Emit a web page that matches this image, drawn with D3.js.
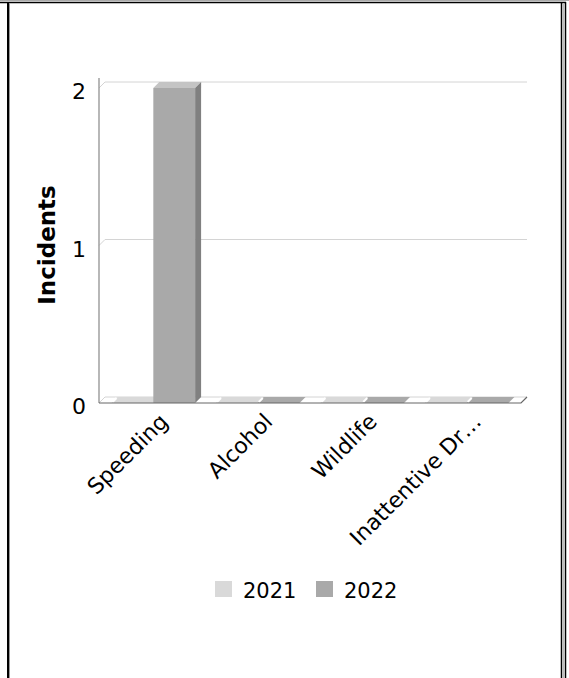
<!DOCTYPE html>
<html>
<head>
<meta charset="utf-8">
<script src="https://cdn.jsdelivr.net/npm/d3@7"></script>
<style>
  body { margin: 0; background: #fff; }
  svg { display: block; font-family: "DejaVu Sans", Verdana, sans-serif; }
</style>
</head>
<body>
<svg width="569" height="678"></svg>
<script>
const categories = ["Speeding", "Alcohol", "Wildlife", "Inattentive Dr\u2026"];
const years = ["2021", "2022"];
const values2021 = [0, 0, 0, 0];
const values2022 = [2, 0, 0, 0];
const yTicks = [0, 1, 2];

const colors = {
  "2021": { front: "#d9d9d9", side: "#b8b8b8", top: "#e8e8e8" },
  "2022": { front: "#a9a9a9", side: "#808080", top: "#c4c4c4" }
};

const svg = d3.select("svg");
const depth = 6;          // 3D offset
const plotLeft = 99, plotRight = 521, plotBase = 403, plotTop = 88;

// frame
svg.append("line").attr("x1", 0).attr("x2", 569).attr("y1", 0.5).attr("y2", 0.5).attr("stroke", "#aaa");
svg.append("line").attr("x1", 0).attr("x2", 566).attr("y1", 2.5).attr("y2", 2.5).attr("stroke", "#000").attr("stroke-width", 1.5);
svg.append("line").attr("x1", 8).attr("x2", 8).attr("y1", 2).attr("y2", 678).attr("stroke", "#000").attr("stroke-width", 2);
svg.append("line").attr("x1", 9.5).attr("x2", 9.5).attr("y1", 3).attr("y2", 678).attr("stroke", "#999");
svg.append("line").attr("x1", 561.5).attr("x2", 561.5).attr("y1", 2).attr("y2", 678).attr("stroke", "#000").attr("stroke-width", 1.5);
svg.append("line").attr("x1", 565.5).attr("x2", 565.5).attr("y1", 2).attr("y2", 678).attr("stroke", "#000").attr("stroke-width", 1.5);
svg.append("line").attr("x1", 563.5).attr("x2", 563.5).attr("y1", 3).attr("y2", 678).attr("stroke", "#bbb");

const x = d3.scaleBand().domain(categories).range([plotLeft, plotRight]).paddingInner(0.2).paddingOuter(0.12);
const xs = d3.scaleBand().domain(years).range([0, x.bandwidth()]);
const y = d3.scaleLinear().domain([0, 2]).range([plotBase, plotTop]);

// gridlines (back wall)
const g = svg.append("g");
yTicks.forEach(t => {
  if (t === 0) return;
  g.append("polyline")
    .attr("points", `${plotLeft},${y(t)} ${plotLeft + depth},${y(t) - depth} ${plotRight + depth},${y(t) - depth}`)
    .attr("fill", "none").attr("stroke", "#d4d4d4").attr("stroke-width", 1);
});

// floor back line
g.append("polyline")
  .attr("points", `${plotLeft},${plotBase} ${plotLeft + depth},${plotBase - depth} ${plotRight + depth},${plotBase - depth} ${plotRight},${plotBase}`)
  .attr("fill", "none").attr("stroke", "#d4d4d4");

// left axis
g.append("line").attr("x1", plotLeft).attr("x2", plotLeft).attr("y1", plotTop - 10).attr("y2", plotBase)
  .attr("stroke", "#888").attr("stroke-width", 1.2);

// bars
const data = [];
categories.forEach((c, i) => {
  data.push({ cat: c, year: "2021", v: values2021[i] });
  data.push({ cat: c, year: "2022", v: values2022[i] });
});

const bars = svg.append("g").selectAll("g").data(data).join("g");
bars.each(function (d) {
  const sel = d3.select(this);
  const x0 = x(d.cat) + xs(d.year);
  const w = xs.bandwidth();
  const y0 = y(d.v);
  const col = colors[d.year];
  // top face
  sel.append("polygon")
    .attr("points", `${x0},${y0} ${x0 + depth},${y0 - depth} ${x0 + w + depth},${y0 - depth} ${x0 + w},${y0}`)
    .attr("fill", d.v === 0 ? col.front : col.top);
  if (d.v > 0) {
    sel.append("polygon")
      .attr("points", `${x0 + w},${y0} ${x0 + w + depth},${y0 - depth} ${x0 + w + depth},${plotBase - depth} ${x0 + w},${plotBase}`)
      .attr("fill", col.side);
    sel.append("rect").attr("x", x0).attr("y", y0).attr("width", w).attr("height", plotBase - y0)
      .attr("fill", col.front);
  } else {
    // small white highlight on the slab's left edge
    sel.append("line").attr("x1", x0 + 1).attr("y1", plotBase - 1).attr("x2", x0 + depth - 1).attr("y2", plotBase - depth + 1)
      .attr("stroke", "#fff").attr("stroke-width", 2);
  }
});

// bottom front axis line
svg.append("polyline")
  .attr("points", `${plotLeft},${plotBase} ${plotRight},${plotBase} ${plotRight + depth},${plotBase - depth}`)
  .attr("fill", "none").attr("stroke", "#666").attr("stroke-width", 1.2);

// y tick labels
svg.append("g").selectAll("text").data(yTicks).join("text")
  .attr("x", 86).attr("y", d => y(d) + 5)
  .attr("text-anchor", "end").attr("dominant-baseline", "middle")
  .attr("font-size", 22).attr("fill", "#000")
  .text(d => d);

// y axis title
svg.append("text")
  .attr("transform", "translate(55,245) rotate(-90)")
  .attr("text-anchor", "middle")
  .attr("font-size", 23).attr("font-weight", "bold")
  .text("Incidents");

// x labels
svg.append("g").selectAll("text").data(categories).join("text")
  .attr("transform", d => `translate(${x(d) + x.bandwidth() / 2 + 16},${plotBase + 20}) rotate(-45)`)
  .attr("text-anchor", "end")
  .attr("font-size", 22)
  .text(d => d);

// legend
const legend = svg.append("g").selectAll("g").data(years).join("g")
  .attr("transform", (d, i) => `translate(${215 + i * 101},581)`);
legend.append("rect").attr("width", 17).attr("height", 16).attr("fill", d => colors[d].front);
legend.append("text").attr("x", 28).attr("y", 17).attr("font-size", 21).text(d => d);
</script>
</body>
</html>
